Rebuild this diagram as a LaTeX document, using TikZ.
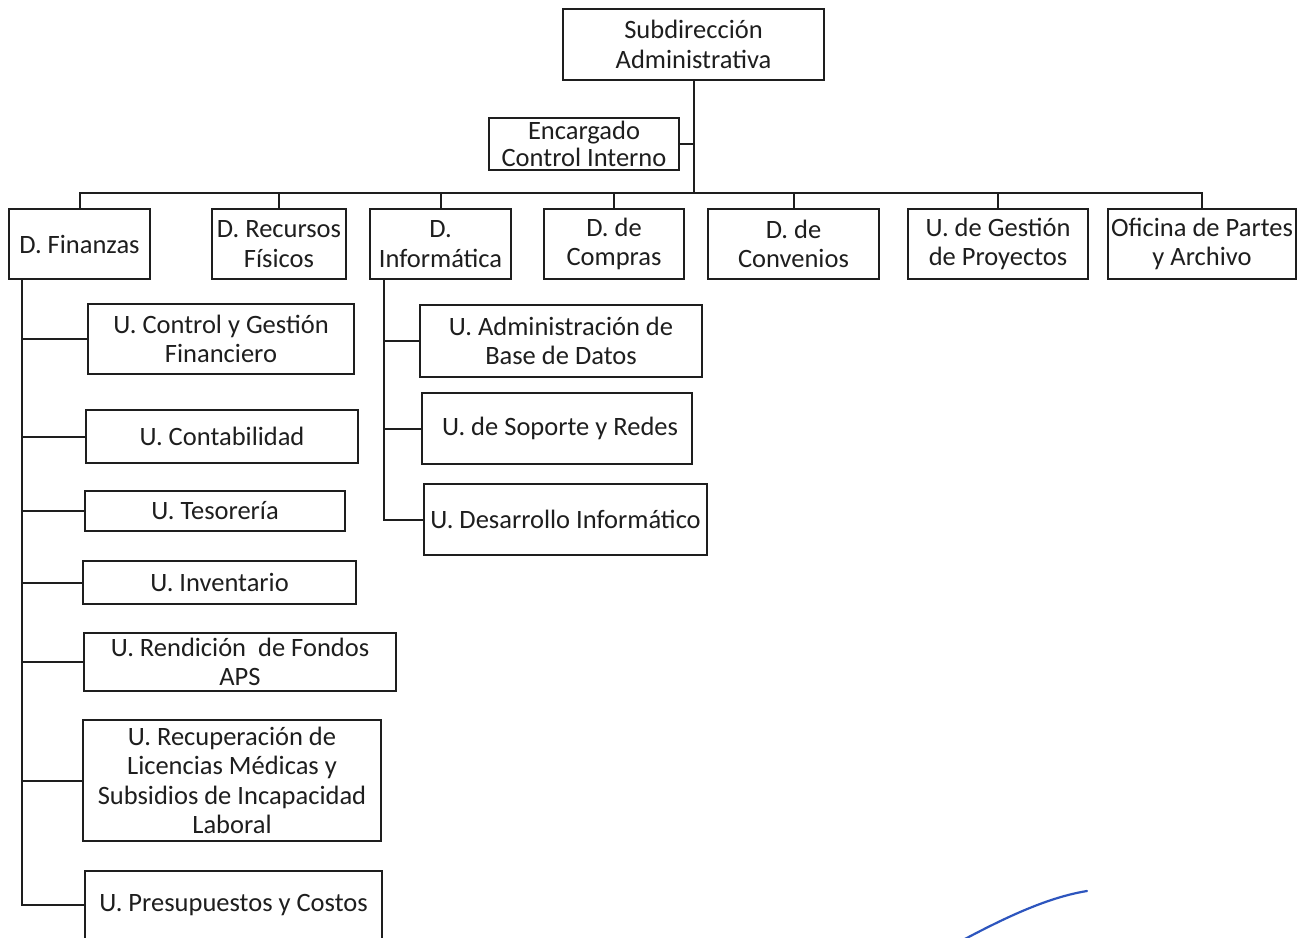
\documentclass[tikz,border=0pt]{standalone}
\usepackage{fontspec}
\setmainfont{Carlito}
\definecolor{ink}{RGB}{30,30,30}
\definecolor{pen}{RGB}{45,85,190}
\begin{document}
\begin{tikzpicture}[x=1pt,y=-1pt,
  box/.style={draw=ink, line width=2pt, inner sep=0pt, align=center, text=ink,
    font=\fontsize{26.5}{29.5}\selectfont},
  sz/.style 2 args={minimum width=#1pt, minimum height=#2pt},
  conn/.style={draw=ink, line width=2pt},
]
\useasboundingbox (0,0) rectangle (1314,937);
\clip (0,0) rectangle (1314,937);
\fill[white] (0,0) rectangle (1314,937);

% top
\node[box, sz={261}{71}] (sub) at (693.5,44.5) {Subdirección\\Administrativa};
\node[box, sz={190}{52}, font=\fontsize{26.5}{27}\selectfont] (enc) at (584,144) {Encargado\\Control Interno};

% second row
\node[box, sz={141}{70}] (fin)  at (79.5,244)  {D. Finanzas};
\node[box, sz={134}{70}] (rec)  at (279,244)   {D. Recursos\\Físicos};
\node[box, sz={141}{70}] (inf)  at (440.5,244) {D.\\Informática};
\node[box, sz={140}{70}] (com)  at (614,244)   {D. de\\Compras};
\node[box, sz={171}{70}] (conv) at (793.5,244) {D. de\\Convenios};
\node[box, sz={180}{70}] (ges)  at (998,244)   {U. de Gestión\\de Proyectos};
\node[box, sz={188}{70}] (ofi)  at (1202,244)  {Oficina de Partes\\y Archivo};

% Finanzas children
\node[box, sz={266}{70}]  (cgf)  at (221,339)    {U. Control y Gestión\\Financiero};
\node[box, sz={272}{53}]  (cont) at (222,436.5)  {U. Contabilidad};
\node[box, sz={260}{40}]  (tes)  at (215,511)    {U. Tesorería};
\node[box, sz={273}{43}]  (inv)  at (219.5,582.5){U. Inventario};
\node[box, sz={312}{58}]  (ren)  at (240,662)    {U. Rendición\ \ de Fondos\\APS};
\node[box, sz={298}{121}] (recu) at (232,780.5)  {U. Recuperación de\\Licencias Médicas y\\Subsidios de Incapacidad\\Laboral};
\node[box, sz={297}{68}]  (pre)  at (233.5,905)  {U. Presupuestos y Costos};

% Informatica children
\node[box, sz={282}{72}] (adb) at (561,341)    {U. Administración de\\Base de Datos};
\node[box, sz={270}{71}] (sop) at (557,428.5)  {\hspace*{6pt}U. de Soporte y Redes};
\node[box, sz={283}{71}] (des) at (565.5,519.5){U. Desarrollo Informático};

% connectors
\coordinate (bus) at (693.5,193);
\draw[conn] (sub.south) -- (bus);
\draw[conn] (enc.east) -- (enc.east -| bus);
\draw[conn] (fin.north) -- (fin.north |- bus) -- (ofi.north |- bus) -- (ofi.north);
\foreach \n in {rec,inf,com,conv,ges} \draw[conn] (\n.north) -- (\n.north |- bus);

\coordinate (fs) at ([xshift=14pt]fin.south west);
\draw[conn] (fs) |- (pre.west);
\foreach \n in {cgf,cont,tes,inv,ren,recu} \draw[conn] (\n.west) -- (\n.west -| fs);

\coordinate (is) at ([xshift=15pt]inf.south west);
\draw[conn] (is) |- (des.west);
\foreach \n in {adb,sop} \draw[conn] (\n.west) -- (\n.west -| is);

% pen stroke
\draw[pen, line width=2.2pt, line cap=round] (963,940) .. controls (1010,915) and (1050,897) .. (1087,891);
\end{tikzpicture}
\end{document}
